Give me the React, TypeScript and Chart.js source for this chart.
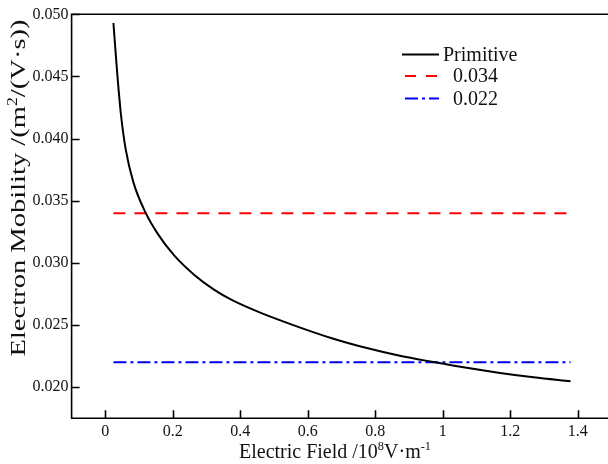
import React, { useEffect, useRef } from "react";
import { Chart, registerables } from "chart.js";

Chart.register(...registerables);

// Electric field (10^8 V/m) and electron mobility (m^2/(V·s)) of the primitive curve
const fieldValues = [0.024, 0.03, 0.036, 0.046, 0.06, 0.083, 0.12, 0.154, 0.204, 0.263, 0.322, 0.376, 0.459, 0.557, 0.676, 0.775, 0.873, 0.972, 1.071, 1.17, 1.269, 1.379];
const mobilityValues = [0.0493, 0.0471, 0.045, 0.042, 0.0392, 0.0365, 0.034, 0.0324, 0.0306, 0.02905, 0.02785, 0.027, 0.026, 0.025, 0.0239, 0.02315, 0.02253, 0.02203, 0.02156, 0.02115, 0.0208, 0.02048];

// Reference levels
const refLabels = ["0.034", "0.022"];
const refValues = [0.034, 0.022];
const refRange = [0.024, 1.379];

// Axes
const xTicks = [0, 0.2, 0.4, 0.6, 0.8, 1, 1.2, 1.4];
const yTicks = [0.02, 0.025, 0.03, 0.035, 0.04, 0.045, 0.05];
const xRange = [-0.1, 1.49];
const yRange = [0.0175, 0.05];

const seriesNames = ["Primitive", ...refLabels];
const seriesColors = ["#000000", "#ff0000", "#0000ff"];
const seriesDashes = [[], [12, 9], [13, 4, 3, 4]];

const FONT = '"Liberation Serif", "Times New Roman", serif';

type Seg = { t: string; sup?: boolean };

function richWidth(ctx: CanvasRenderingContext2D, segs: Seg[], size: number) {
  const supSize = size * 0.62;
  return segs.map((s) => {
    ctx.font = `${s.sup ? supSize : size}px ${FONT}`;
    return ctx.measureText(s.t).width;
  });
}

function drawRich(ctx: CanvasRenderingContext2D, segs: Seg[], cx: number, cy: number, size: number) {
  const supSize = size * 0.62;
  const widths = richWidth(ctx, segs, size);
  const total = widths.reduce((a, b) => a + b, 0);
  let x = cx - total / 2;
  ctx.textBaseline = "alphabetic";
  ctx.textAlign = "left";
  segs.forEach((s, i) => {
    ctx.font = `${s.sup ? supSize : size}px ${FONT}`;
    ctx.fillText(s.t, x, cy + size * 0.35 - (s.sup ? size * 0.38 : 0));
    x += widths[i];
  });
}

const framePlugin = {
  id: "frame",
  afterDraw(chart: any) {
    const { ctx, chartArea, scales } = chart;
    const { left, top, right, bottom } = chartArea;
    ctx.save();
    ctx.strokeStyle = "#000";
    ctx.lineWidth = 1.6;
    ctx.setLineDash([]);
    ctx.beginPath();
    ctx.moveTo(right + 2, top);
    ctx.lineTo(left, top);
    ctx.lineTo(left, bottom);
    ctx.lineTo(right + 2, bottom);
    ctx.stroke();
    // inward ticks
    ctx.beginPath();
    xTicks.forEach((v) => {
      const px = Math.round(scales.x.getPixelForValue(v)) + 0.5;
      ctx.moveTo(px, bottom);
      ctx.lineTo(px, bottom - 8);
    });
    yTicks.forEach((v) => {
      const py = Math.round(scales.y.getPixelForValue(v)) + 0.5;
      ctx.moveTo(left, py);
      ctx.lineTo(left + 8, py);
    });
    ctx.stroke();

    // legend
    const rows = [54.5, 76, 98.5];
    const textX = [443, 453, 453];
    rows.forEach((y, i) => {
      ctx.strokeStyle = seriesColors[i];
      ctx.lineWidth = 2;
      ctx.setLineDash(i === 1 ? [11, 10] : i === 2 ? [13, 4, 3, 4] : []);
      ctx.beginPath();
      ctx.moveTo(i === 0 ? 402 : 405, y);
      ctx.lineTo(439, y);
      ctx.stroke();
      ctx.setLineDash([]);
      ctx.fillStyle = "#111";
      ctx.font = `20px ${FONT}`;
      ctx.textAlign = "left";
      ctx.textBaseline = "middle";
      ctx.fillText(seriesNames[i], textX[i], y + 1);
    });

    // axis titles
    ctx.fillStyle = "#111";
    drawRich(ctx, [{ t: "Electric Field /10" }, { t: "8", sup: true }, { t: "V·m" }, { t: "-1", sup: true }], 335, 451, 20);
    const ySegs: Seg[] = [{ t: "Electron Mobility /(m" }, { t: "2", sup: true }, { t: "/(V·s))" }];
    const yW = richWidth(ctx, ySegs, 22).reduce((a, b) => a + b, 0);
    ctx.save();
    ctx.translate(17.5, 188);
    ctx.rotate(-Math.PI / 2);
    ctx.scale(337 / yW, 1);
    drawRich(ctx, ySegs, 0, 0, 22);
    ctx.restore();
    ctx.restore();
  },
};

export default function App() {
  const ref = useRef<HTMLCanvasElement>(null);
  useEffect(() => {
    if (!ref.current) return;
    const chart = new Chart(ref.current, {
      type: "line",
      data: {
        datasets: [
          {
            label: seriesNames[0],
            data: fieldValues.map((x, i) => ({ x, y: mobilityValues[i] })),
            borderColor: seriesColors[0],
            borderWidth: 2,
            pointRadius: 0,
            cubicInterpolationMode: "monotone",
          },
          ...refValues.map((v, i) => ({
            label: refLabels[i],
            data: refRange.map((x) => ({ x, y: v })),
            borderColor: seriesColors[i + 1],
            borderWidth: 2,
            borderDash: seriesDashes[i + 1],
            pointRadius: 0,
          })),
        ],
      },
      options: {
        animation: false,
        responsive: false,
        maintainAspectRatio: false,
        layout: { padding: { top: 14.3, right: 0, left: 0, bottom: 0 } },
        plugins: { legend: { display: false }, tooltip: { enabled: false } },
        scales: {
          x: {
            type: "linear",
            min: xRange[0],
            max: xRange[1],
            border: { display: false },
            grid: { display: false, drawTicks: false },
            afterBuildTicks: (s: any) => {
              s.ticks = xTicks.map((value) => ({ value }));
            },
            afterFit: (s: any) => {
              s.height = 45.7;
            },
            ticks: {
              padding: 4,
              color: "#111",
              font: { family: FONT, size: 16 },
              maxRotation: 0,
              autoSkip: false,
              callback: (v: any) => (v === 0 || v === 1 ? String(v) : Number(v).toFixed(1)),
            },
          },
          y: {
            type: "linear",
            min: yRange[0],
            max: yRange[1],
            border: { display: false },
            grid: { display: false, drawTicks: false },
            afterBuildTicks: (s: any) => {
              s.ticks = yTicks.map((value) => ({ value }));
            },
            afterFit: (s: any) => {
              s.width = 71.6;
            },
            ticks: {
              padding: 3,
              color: "#111",
              font: { family: FONT, size: 16 },
              autoSkip: false,
              callback: (v: any) => Number(v).toFixed(3),
            },
          },
        },
      } as any,
      plugins: [framePlugin],
    });
    return () => chart.destroy();
  }, []);
  return (
    <div style={{ position: "absolute", left: 0, top: 0, width: 608, height: 464, overflow: "hidden", background: "#fff" }}>
      <canvas ref={ref} width={608} height={464} style={{ display: "block", width: 608, height: 464 }} />
    </div>
  );
}
